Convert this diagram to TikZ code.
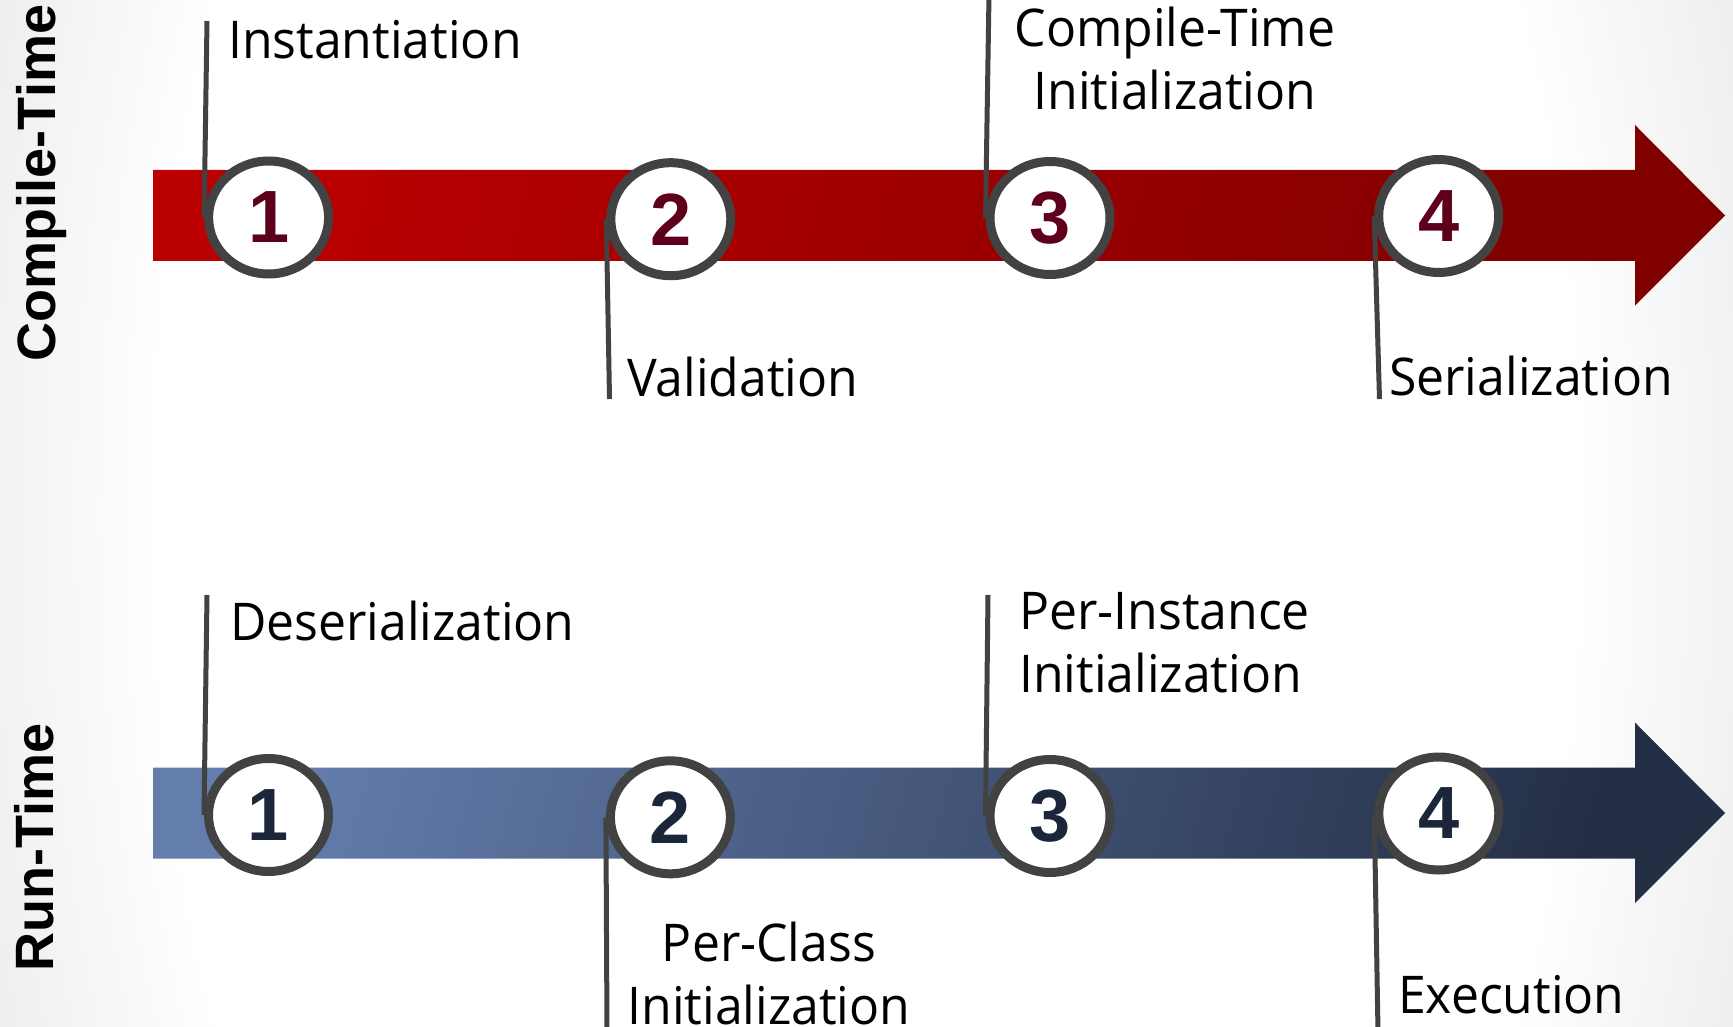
\documentclass[tikz,border=0pt]{standalone}
\usepackage{fontspec}
\setmainfont{Open Sans}[FakeStretch=0.96]
\newfontfamily\titlefont{Liberation Sans}
\usetikzlibrary{shapes.geometric}

\definecolor{redA}{RGB}{186,0,0}
\definecolor{redB}{RGB}{128,0,0}
\definecolor{blueA}{RGB}{99,125,172}
\definecolor{blueB}{RGB}{36,47,70}
\definecolor{ringgray}{RGB}{66,66,66}
\definecolor{rednum}{RGB}{94,0,28}
\definecolor{bluenum}{RGB}{28,38,58}
\definecolor{bgA}{RGB}{242,242,242}
\definecolor{bgB}{RGB}{228,228,228}

% soft grey vignette towards the left and right edges
\pgfdeclareradialshading{vignette}{\pgfpoint{0bp}{0bp}}{%
  color(0bp)=(white); color(20.5bp)=(white); color(25bp)=(bgA);
  color(30bp)=(bgB); color(50bp)=(bgB)}

% timeline arrow centred on height #1
\newcommand\timelinearrow[1]{(153,#1-45.5) -- (1635,#1-45.5) -- (1635,#1-90.5)
  -- (1725,#1) -- (1635,#1+90) -- (1635,#1+45.5) -- (153,#1+45.5) -- cycle}

\newcommand\stepfont{\fontsize{52}{63.5}\selectfont}

\begin{document}
\begin{tikzpicture}[x=1pt,y=-1pt,
  stage/.style={ellipse, draw=ringgray, line width=9pt, fill=white,
    minimum width=120pt, minimum height=113pt, inner sep=0pt,
    font=\titlefont\bfseries\fontsize{74}{74}\selectfont},
  leader/.style={draw=ringgray, line width=5pt},
  steptext/.style={font=\stepfont, inner sep=0pt, text=black},
  lanetitle/.style={font=\titlefont\bfseries\fontsize{54}{54}\selectfont,
    inner sep=0pt, rotate=90, anchor=base}]

\useasboundingbox (0,0) rectangle (1733,1027);
\begin{scope}
  \clip (0,0) rectangle (1733,1027);
  \shade[shading=vignette] (0,-1000) rectangle (1733,2027);
\end{scope}

% the two timeline arrows, light at the upper left, dark at the lower right
\path[left color=redA, right color=redB, shading angle=74] \timelinearrow{215.5};
\path[left color=blueA, right color=blueB, shading angle=74] \timelinearrow{813};

% lane titles
\node[lanetitle] (ct) at (55.5,183) {Compile-Time};
\node[lanetitle] (rt) at (53.6,847.5) {Run-Time};

% compile-time stages
\node[stage, text=rednum] (t1) at (268.6,217.5) {1};
\node[stage, text=rednum] (t2) at (670.8,219.2) {2};
\node[stage, text=rednum] (t3) at (1050,218) {3};
\node[stage, text=rednum] (t4) at (1438.7,216) {4};

% run-time stages
\node[stage, text=bluenum] (r1) at (268.5,815) {1};
\node[stage, text=bluenum] (r2) at (670.4,817.3) {2};
\node[stage, text=bluenum] (r3) at (1050,816) {3};
\node[stage, text=bluenum] (r4) at (1438.8,813.5) {4};

% leader ends
\coordinate (t1end) at (207,21);
\coordinate (t2end) at (609.5,399);
\coordinate (t3end) at (989,-5);
\coordinate (t4end) at (1379.5,399);
\coordinate (r1end) at (207,595);
\coordinate (r2end) at (607,1032);
\coordinate (r3end) at (988,595);
\coordinate (r4end) at (1378,1032);

\draw[leader] (t1.west) -- (t1end);
\draw[leader] (t2.west) -- (t2end);
\draw[leader] (t3.west) -- (t3end);
\draw[leader] (t4.west) -- (t4end);
\draw[leader] (r1.west) -- (r1end);
\draw[leader] (r2.west) -- (r2end);
\draw[leader] (r3.west) -- (r3end);
\draw[leader] (r4.west) -- (r4end);

% stage labels (multi-line labels sit on the baseline of their last line)
\node[steptext, anchor=base west] (lt1) at (228,58.3) {Instantiation};
\node[steptext, anchor=base west] (lt2) at (627,396) {Validation};
\node[steptext, anchor=base, align=center] (lt3) at (1175,110) {Compile-Time\\Initialization};
\node[steptext, anchor=base west] (lt4) at (1389,395) {Serialization};
\node[steptext, anchor=base west] (lr1) at (230,640) {Deserialization};
\node[steptext, anchor=base, align=center] (lr2) at (769,1024.5) {Per-Class\\Initialization};
\node[steptext, anchor=base west, align=left] (lr3) at (1019,692.7) {Per-Instance\\Initialization};
\node[steptext, anchor=base west] (lr4) at (1398,1013.3) {Execution};
\end{tikzpicture}
\end{document}
